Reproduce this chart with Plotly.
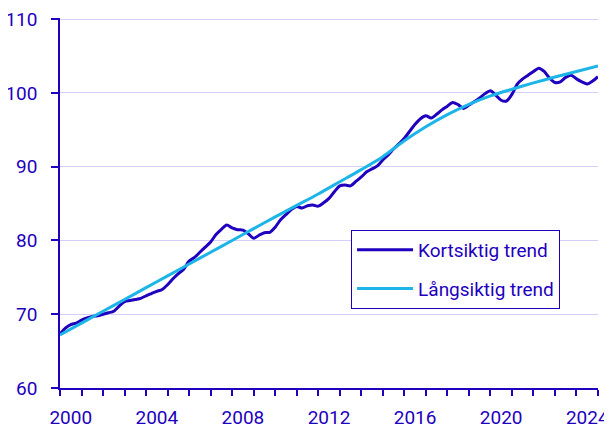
import numpy as np
import plotly.graph_objects as go

# Quarterly short-term trend, 2000Q1 .. 2025 (start of each quarter)
short_start_year = 2000
short_step = 0.25
short_trend = [
    67.3, 68.1, 68.6, 68.8,
    69.2, 69.5, 69.7, 69.8,
    70.0, 70.2, 70.4, 71.1,
    71.7, 71.85, 72.0, 72.15,
    72.5, 72.8, 73.1, 73.35,
    74.0, 74.8, 75.5, 76.1,
    77.2, 77.7, 78.4, 79.1,
    79.8, 80.8, 81.5, 82.1,
    81.7, 81.45, 81.4, 80.9,
    80.3, 80.7, 81.05, 81.1,
    81.8, 82.8, 83.5, 84.2,
    84.6, 84.4, 84.7, 84.8,
    84.65, 85.1, 85.7, 86.6,
    87.4, 87.5, 87.4, 88.0,
    88.6, 89.3, 89.7, 90.1,
    90.9, 91.6, 92.4, 93.1,
    93.85, 94.8, 95.75, 96.5,
    96.9, 96.6, 97.1, 97.7,
    98.2, 98.7, 98.4, 97.9,
    98.35, 98.8, 99.3, 99.9,
    100.3, 99.7, 99.0, 98.9,
    99.8, 101.2, 101.9, 102.4,
    102.9, 103.35, 102.9, 102.0,
    101.4, 101.5, 102.1, 102.4,
    101.9, 101.5, 101.2, 101.6,
    102.2,
]

# Long-term trend, yearly
long_years = list(range(2000, 2026))
long_trend = [
    67.2, 68.8, 70.4, 72.0, 73.6, 75.2, 76.8, 78.4, 80.0, 81.6,
    83.2, 84.75, 86.3, 87.95, 89.6, 91.35, 93.5, 95.4, 97.05, 98.45,
    99.6, 100.5, 101.35, 102.15, 102.9, 103.65,
]

tick_years = [2000, 2004, 2008, 2012, 2016, 2020, 2024]
y_ticks = [60, 70, 80, 90, 100, 110]

short_x = [short_start_year + i * short_step for i in range(len(short_trend))]

DARK = "#1E00BE"
CYAN = "#1DB4E8"
GRID = "#D3CEF5"
FONT = "Roboto"

fig = go.Figure()
fig.add_trace(go.Scatter(
    x=short_x, y=short_trend, mode="lines", name="Kortsiktig trend",
    line=dict(color=DARK, width=3, shape="spline", smoothing=0.8),
    legendgroup="a",
))
fig.add_trace(go.Scatter(
    x=long_years, y=long_trend, mode="lines", name="Långsiktig trend",
    line=dict(color=CYAN, width=3, shape="spline", smoothing=0.8),
    legendgroup="b",
))

fig.update_layout(
    width=604, height=417,
    margin=dict(l=52, r=14, t=10, b=37, autoexpand=False),
    paper_bgcolor="white", plot_bgcolor="white",
    font=dict(family=FONT, size=19, color=DARK),
    showlegend=True,
    legend=dict(
        x=0.541, y=0.427, xanchor="left", yanchor="top",
        bgcolor="white", bordercolor=DARK, borderwidth=1,
        font=dict(family=FONT, size=19, color=DARK),
        tracegroupgap=11, traceorder="grouped",
        itemwidth=56,
    ),
    xaxis=dict(
        range=[2000, 2025],
        tickvals=[y + 0.5 for y in tick_years],
        ticktext=[str(y) for y in tick_years],
        ticks="", showgrid=False, zeroline=False,
        showline=True, linecolor=DARK, linewidth=1.5,
        ticklabelstandoff=11, automargin=False,
        ticklabeloverflow="allow",
        minor=dict(tick0=2000, dtick=1, ticks="outside", ticklen=6,
                   tickcolor=DARK, tickwidth=1.5, showgrid=False),
        tickfont=dict(family=FONT, size=19, color=DARK),
    ),
    yaxis=dict(
        range=[60, 110.15],
        tickvals=y_ticks,
        ticks="outside", ticklen=7, tickcolor=DARK, tickwidth=1.5,
        showgrid=True, gridcolor=GRID, gridwidth=1.3,
        zeroline=False, showline=True, linecolor=DARK, linewidth=1.5,
        ticklabelstandoff=10, automargin=False,
        ticklabeloverflow="allow",
        tickfont=dict(family=FONT, size=19, color=DARK),
    ),
)

fig.write_html("out.html")
